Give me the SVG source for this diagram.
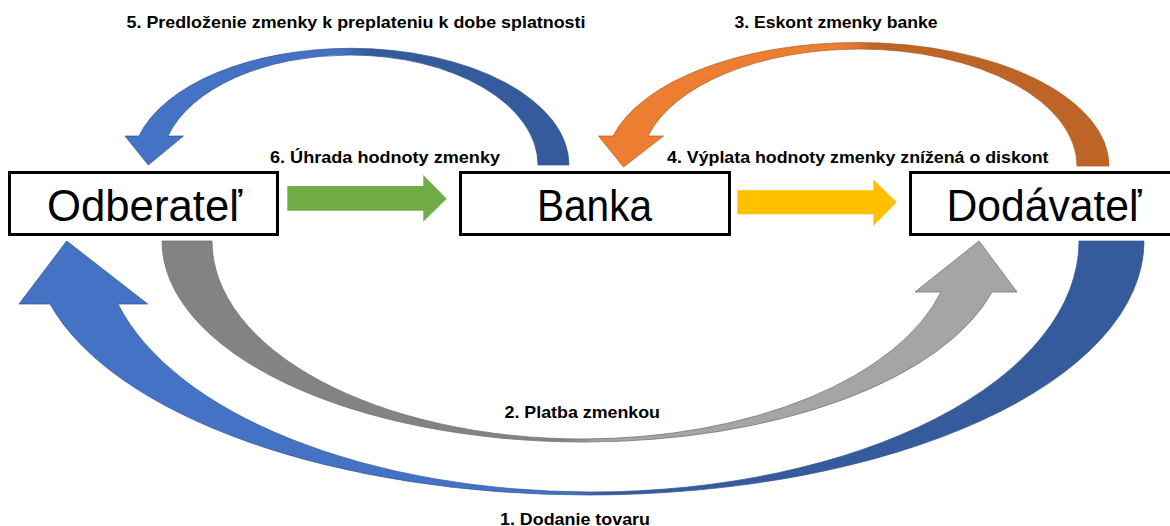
<svg xmlns="http://www.w3.org/2000/svg" width="1170" height="526" viewBox="0 0 1170 526">
  <style>
    .box { fill: #ffffff; stroke: #000000; stroke-width: 3; }
    .name { font-family: "Liberation Sans", Arial, sans-serif; font-size: 44px; fill: #000000; text-anchor: middle; }
    .lbl { font-family: "Liberation Sans", Arial, sans-serif; font-size: 16.5px; font-weight: bold; fill: #000000; }
    .blueOut { stroke: #2F528F; stroke-width: 1; stroke-opacity: 0.7; }
    .oranOut { stroke: #AE5A21; stroke-width: 1; stroke-opacity: 0.7; }
    .grayOut { stroke: #767676; stroke-width: 1; stroke-opacity: 0.8; }
  </style>
  <defs>
    <linearGradient id="g5" gradientUnits="userSpaceOnUse" x1="340" y1="0" x2="370" y2="0">
      <stop offset="0" stop-color="#4472C4"/>
      <stop offset="1" stop-color="#365B9C"/>
    </linearGradient>
    <linearGradient id="g3" gradientUnits="userSpaceOnUse" x1="845" y1="0" x2="875" y2="0">
      <stop offset="0" stop-color="#ED7D31"/>
      <stop offset="1" stop-color="#BE6427"/>
    </linearGradient>
    <linearGradient id="g2" gradientUnits="userSpaceOnUse" x1="565" y1="0" x2="600" y2="0">
      <stop offset="0" stop-color="#838383"/>
      <stop offset="1" stop-color="#A5A5A5"/>
    </linearGradient>
    <linearGradient id="g1" gradientUnits="userSpaceOnUse" x1="575" y1="0" x2="610" y2="0">
      <stop offset="0" stop-color="#4472C4"/>
      <stop offset="1" stop-color="#365B9C"/>
    </linearGradient>
  </defs>

  <g id="connectors">
    <g id="arrow-1-dodanie">
      <path class="blueOut" fill="url(#g1)" d="M1144,241 A555.7,254 0 0 1 588.3,495 A555.7,254 0 0 1 50,304 L19,304 L66.7,241 L147.7,304 L118,304 A488.3,251 0 0 0 590.7,492 A488.3,251 0 0 0 1079,241 Z"/>
      <text class="lbl" x="500" y="524.5" textLength="150" lengthAdjust="spacingAndGlyphs">1. Dodanie tovaru</text>
    </g>
    <g id="arrow-2-platba">
      <path class="grayOut" fill="url(#g2)" d="M162,241 A421.9,201 0 0 0 583.9,442 A421.9,201 0 0 0 992,292 L1017,292 L979,241 L915,292 L941,292 A370.7,198 0 0 1 582.7,439 A370.7,198 0 0 1 212,241 Z"/>
      <text class="lbl" x="504.5" y="418.3" textLength="155.5" lengthAdjust="spacingAndGlyphs">2. Platba zmenkou</text>
    </g>
    <g id="arrow-3-eskont">
      <path class="oranOut" fill="url(#g3)" d="M1109,166 A251.8,123.5 0 0 0 857.2,42.5 A251.8,123.5 0 0 0 613,136 L598.5,136 L623.5,167 L663.5,136 L648,136 A218.1,117 0 0 1 858.9,49 A218.1,117 0 0 1 1077,166 Z"/>
      <text class="lbl" x="734.5" y="27.5" textLength="203" lengthAdjust="spacingAndGlyphs">3. Eskont zmenky banke</text>
    </g>
    <g id="arrow-4-vyplata">
      <polygon fill="#FFC000" points="737.3,190.3 873.3,190.3 873.3,179.3 896.7,202.3 873.3,226 873.3,214.3 737.3,214.3"/>
      <text class="lbl" x="667" y="163.3" textLength="381.5" lengthAdjust="spacingAndGlyphs">4. Výplata hodnoty zmenky znížená o diskont</text>
    </g>
    <g id="arrow-5-predlozenie">
      <path class="blueOut" fill="url(#g5)" d="M569,165 A218.4,116.7 0 0 0 350.6,48.3 A218.4,116.7 0 0 0 139,136 L125,136 L148.3,165 L183.5,136 L168,136 A188.3,110 0 0 1 349.7,55 A188.3,110 0 0 1 538,165 Z"/>
      <text class="lbl" x="126.5" y="27.5" textLength="459" lengthAdjust="spacingAndGlyphs">5. Predloženie zmenky k preplateniu k dobe splatnosti</text>
    </g>
    <g id="arrow-6-uhrada">
      <polygon fill="#70AD47" points="287.3,186 423.3,186 423.3,175 446.7,198.7 423.3,221.7 423.3,210.7 287.3,210.7"/>
      <text class="lbl" x="270" y="163.3" textLength="230" lengthAdjust="spacingAndGlyphs">6. Úhrada hodnoty zmenky</text>
    </g>
  </g>

  <g id="odberatel">
    <rect class="box" x="9.5" y="172.5" width="268" height="62"/>
    <text class="name" x="144.5" y="220.5" textLength="195" lengthAdjust="spacingAndGlyphs">Odberateľ</text>
  </g>
  <g id="banka">
    <rect class="box" x="460.5" y="172.5" width="269" height="62"/>
    <text class="name" x="594.5" y="220.5" textLength="115" lengthAdjust="spacingAndGlyphs">Banka</text>
  </g>
  <g id="dodavatel">
    <rect class="box" x="910.5" y="172.5" width="269" height="62"/>
    <text class="name" x="1044" y="220.5" textLength="195" lengthAdjust="spacingAndGlyphs">Dodávateľ</text>
  </g>
</svg>
